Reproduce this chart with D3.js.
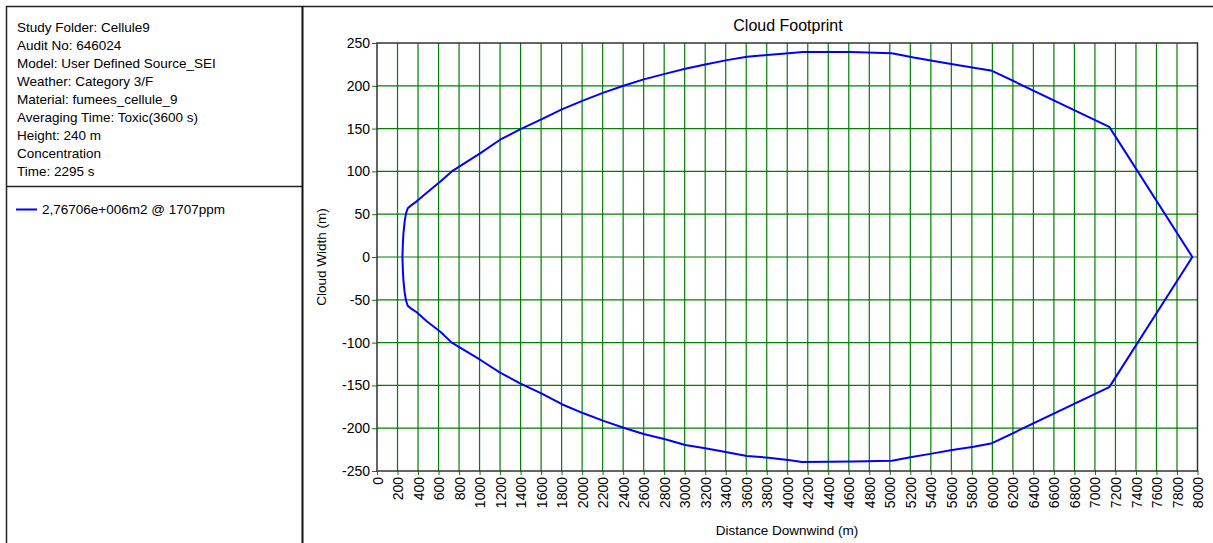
<!DOCTYPE html>
<html>
<head>
<meta charset="utf-8">
<script src="https://cdn.jsdelivr.net/npm/d3@7"></script>
<style>
  html, body { margin: 0; padding: 0; background: #fff; }
  svg { display: block; font-family: Arial, "Liberation Sans", sans-serif; }
</style>
</head>
<body>
<svg id="chart" width="1213" height="543"></svg>
<script>
// ---- data ----
const infoLines = [
  "Study Folder: Cellule9",
  "Audit No: 646024",
  "Model: User Defined Source_SEI",
  "Weather: Category 3/F",
  "Material: fumees_cellule_9",
  "Averaging Time: Toxic(3600 s)",
  "Height: 240 m",
  "Concentration",
  "Time: 2295 s"
];
const legendLabel = "2,76706e+006m2 @ 1707ppm";
const chartTitle = "Cloud Footprint";
const xLabel = "Distance Downwind (m)";
const yLabel = "Cloud Width (m)";
const xTicks = d3.range(0, 8001, 200);
const yTicks = [250, 200, 150, 100, 50, 0, -50, -100, -150, -200, -250];

// footprint contour (closed loop): distance downwind (m) and cloud width (m)
const contourX = [248, 252, 258, 270, 283, 300, 330, 387, 485, 615, 729, 1005, 1200, 1395, 1607, 1802, 2013, 2209, 2404, 2600, 2826, 3005, 3200, 3412, 3607, 3802, 4013, 4150, 4620, 5020, 5233, 5427, 5671, 5997, 7140, 7950,
                  7140, 5997, 5818, 5607, 5395, 5200, 5021, 4640, 4143, 4029, 3818, 3607, 3412, 3200, 3005, 2810, 2600, 2404, 2209, 2013, 1802, 1607, 1395, 1200, 1005, 729, 615, 485, 387, 330, 300, 283, 270, 258, 252, 248];
const contourY = [0, 15, 28, 42, 51, 57, 60, 65, 75, 88, 100, 121, 137, 149, 161, 172.5, 183, 192, 200, 207.5, 214.5, 220, 225, 230, 234, 236, 238, 239.5, 239.5, 238, 233, 229, 224, 217.5, 152, 0,
                  -152, -217.5, -221.6, -225.5, -230, -234, -238, -239, -239.5, -237.5, -234.5, -232.5, -228, -223.5, -219.6, -213, -206.8, -199.4, -191.5, -182.6, -172, -159.5, -147.6, -135, -120, -100, -87, -75, -64.5, -60, -57, -51, -42, -28, -15, 0];

// ---- drawing ----
const svg = d3.select("#chart");
const fmt = d => String(d);

// panel frames
svg.append("line").attr("x1", 6).attr("x2", 1213).attr("y1", 6.5).attr("y2", 6.5).attr("stroke", "#222").attr("stroke-width", 1.5);
svg.append("line").attr("x1", 6.5).attr("x2", 6.5).attr("y1", 6).attr("y2", 543).attr("stroke", "#222").attr("stroke-width", 1.5);
svg.append("line").attr("x1", 302.5).attr("x2", 302.5).attr("y1", 6).attr("y2", 543).attr("stroke", "#111").attr("stroke-width", 2);
svg.append("line").attr("x1", 6).attr("x2", 302).attr("y1", 186.5).attr("y2", 186.5).attr("stroke", "#222").attr("stroke-width", 1.5);

// info text
svg.append("g").selectAll("text").data(infoLines).join("text")
  .attr("x", 17).attr("y", (d, i) => 32 + i * 18)
  .attr("font-size", 13.5).attr("fill", "#000").text(d => d);

// legend
svg.append("line").attr("x1", 16).attr("x2", 37).attr("y1", 209.5).attr("y2", 209.5).attr("stroke", "#0000ff").attr("stroke-width", 2);
svg.append("text").attr("x", 42).attr("y", 214).attr("font-size", 13.5).attr("fill", "#000").text(legendLabel);

// scales
const x = d3.scaleLinear().domain([0, 8000]).range([377, 1197.5]);
const y = d3.scaleLinear().domain([-250, 250]).range([471, 43]);

// grid
const grid = svg.append("g");
grid.selectAll("line.v").data(xTicks.filter(d => d > 0 && d < 8000)).join("line")
  .attr("x1", d => x(d)).attr("x2", d => x(d)).attr("y1", y(250)).attr("y2", y(-250))
  .attr("stroke", "#008000").attr("stroke-width", 1.2);
grid.selectAll("line.h").data(yTicks.filter(d => d > -250 && d < 250)).join("line")
  .attr("x1", x(0)).attr("x2", x(8000)).attr("y1", d => y(d)).attr("y2", d => y(d))
  .attr("stroke", "#008000").attr("stroke-width", 1.2);

// axes
const yAxis = svg.append("g").attr("transform", `translate(${x(0)},0)`)
  .call(d3.axisLeft(y).tickValues(yTicks).tickSize(5).tickPadding(2).tickFormat(fmt));
yAxis.select(".domain").remove();
yAxis.selectAll(".tick line").attr("stroke", "#008000");
yAxis.selectAll(".tick text").attr("font-size", 14).attr("fill", "#000").attr("font-family", "Arial, 'Liberation Sans', sans-serif");

const xAxis = svg.append("g").attr("transform", `translate(0,${y(-250)})`)
  .call(d3.axisBottom(x).tickValues(xTicks).tickSize(4).tickFormat(fmt));
xAxis.select(".domain").remove();
xAxis.selectAll(".tick line").attr("stroke", "#008000");
xAxis.selectAll(".tick text")
  .attr("transform", "rotate(-90)")
  .attr("text-anchor", "end")
  .attr("x", -6).attr("y", 0).attr("dy", "0.36em")
  .attr("font-size", 14).attr("fill", "#000").attr("font-family", "Arial, 'Liberation Sans', sans-serif");

// plot frame
svg.append("rect").attr("x", x(0)).attr("y", y(250))
  .attr("width", x(8000) - x(0)).attr("height", y(-250) - y(250))
  .attr("fill", "none").attr("stroke", "#333").attr("stroke-width", 1.5);

// contour
const pts = contourX.map((d, i) => [d, contourY[i]]);
svg.append("path").datum(pts)
  .attr("d", d3.line().x(d => x(d[0])).y(d => y(d[1])))
  .attr("fill", "none").attr("stroke", "#0000ff").attr("stroke-width", 2).attr("stroke-linejoin", "round");

// titles
svg.append("text").attr("x", 788).attr("y", 31).attr("text-anchor", "middle").attr("font-size", 16).attr("fill", "#000").text(chartTitle);
svg.append("text").attr("x", 787).attr("y", 535).attr("text-anchor", "middle").attr("font-size", 13.5).attr("fill", "#000").text(xLabel);
svg.append("text").attr("transform", `translate(326,257) rotate(-90)`).attr("text-anchor", "middle").attr("font-size", 13.5).attr("fill", "#000").text(yLabel);
</script>
</body>
</html>
